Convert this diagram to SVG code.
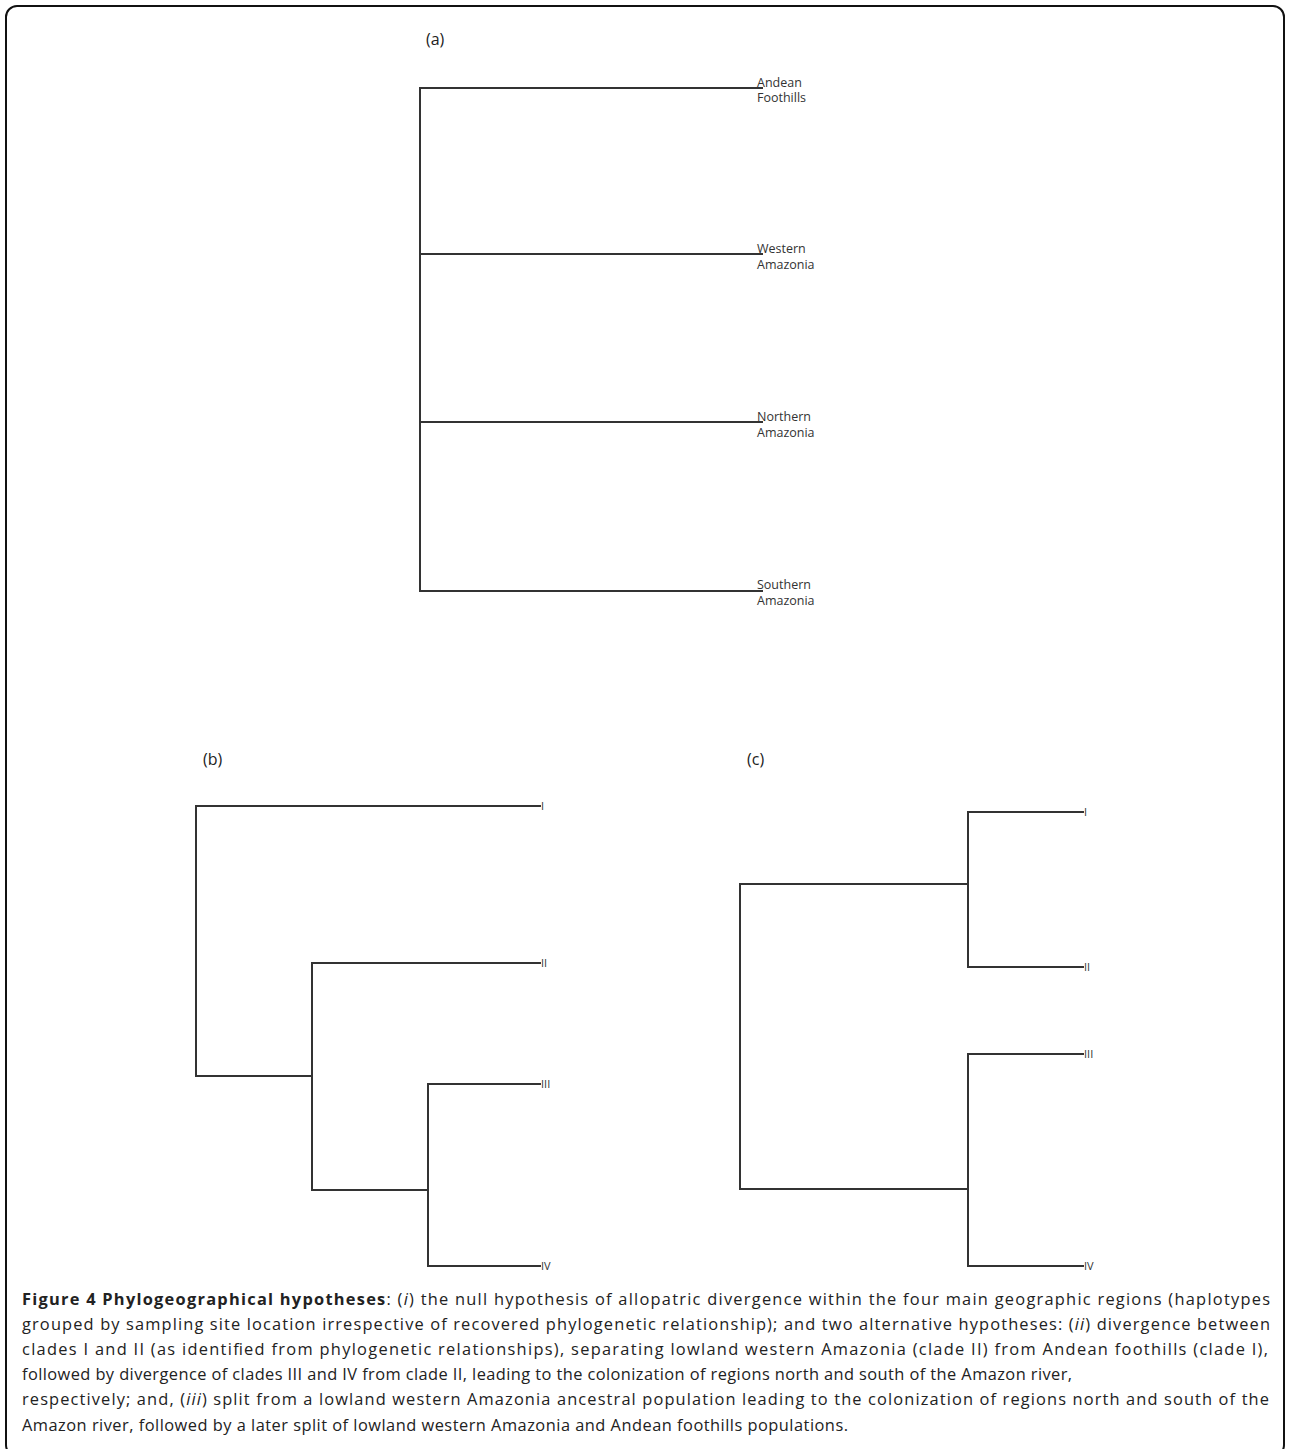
<svg xmlns="http://www.w3.org/2000/svg" width="1290" height="1449" viewBox="0 0 1290 1449">
<style>
.br{stroke:#333;stroke-width:2;fill:none;stroke-linecap:square}
.lab{font-family:"Open Sans","Liberation Sans",sans-serif;font-size:12.5px;fill:#333}
.tip{font-family:"Open Sans","Liberation Sans",sans-serif;font-size:11px;fill:#333}
.pan{font-family:"Open Sans","Liberation Sans",sans-serif;font-size:16px;fill:#222}
.cap{font-family:"Open Sans","Liberation Sans",sans-serif;font-size:16.4px;fill:#222}
</style>
<rect x="0" y="0" width="1290" height="1449" fill="#fff"/>
<rect x="6" y="6" width="1278" height="1450" rx="11" ry="11" fill="none" stroke="#111" stroke-width="2"/>
<g id="panel-labels">
<text class="pan" x="426" y="45">(a)</text>
<text class="pan" x="203" y="765">(b)</text>
<text class="pan" x="747" y="765">(c)</text>
</g>
<g id="connectors">
<path class="br" d="M420,88V591M420,88H762M420,254H762M420,422H762M420,591H762"/>
<path class="br" d="M196,806V1076M196,806H540M196,1076H312M312,963V1190M312,963H540M312,1190H428M428,1084V1266M428,1084H540M428,1266H540"/>
<path class="br" d="M740,884V1189M740,884H968M740,1189H968M968,812V967M968,812H1083M968,967H1083M968,1054V1266M968,1054H1083M968,1266H1083"/>
</g>
<g id="node-andean"><text class="lab" x="757" y="87">Andean</text><text class="lab" x="757" y="102">Foothills</text></g>
<g id="node-western"><text class="lab" x="757" y="253">Western</text><text class="lab" x="757" y="269">Amazonia</text></g>
<g id="node-northern"><text class="lab" x="757" y="421">Northern</text><text class="lab" x="757" y="437">Amazonia</text></g>
<g id="node-southern"><text class="lab" x="757" y="589">Southern</text><text class="lab" x="757" y="605">Amazonia</text></g>
<g id="node-b-I"><text class="tip" x="541" y="810">I</text></g>
<g id="node-b-II"><text class="tip" x="541" y="967">II</text></g>
<g id="node-b-III"><text class="tip" x="541" y="1088">III</text></g>
<g id="node-b-IV"><text class="tip" x="541" y="1270">IV</text></g>
<g id="node-c-I"><text class="tip" x="1084" y="816">I</text></g>
<g id="node-c-II"><text class="tip" x="1084" y="971">II</text></g>
<g id="node-c-III"><text class="tip" x="1084" y="1058">III</text></g>
<g id="node-c-IV"><text class="tip" x="1084" y="1270">IV</text></g>
<g id="caption">
<text class="cap" x="22" y="1305" textLength="1248" lengthAdjust="spacing"><tspan font-weight="bold">Figure 4 Phylogeographical hypotheses</tspan>: (<tspan font-style="italic">i</tspan>) the null hypothesis of allopatric divergence within the four main geographic regions (haplotypes</text>
<text class="cap" x="22" y="1330" textLength="1248" lengthAdjust="spacing">grouped by sampling site location irrespective of recovered phylogenetic relationship); and two alternative hypotheses: (<tspan font-style="italic">ii</tspan>) divergence between</text>
<text class="cap" x="22" y="1355" textLength="1246" lengthAdjust="spacing">clades I and II (as identified from phylogenetic relationships), separating lowland western Amazonia (clade II) from Andean foothills (clade I),</text>
<text class="cap" x="22" y="1380" textLength="1050" lengthAdjust="spacing">followed by divergence of clades III and IV from clade II, leading to the colonization of regions north and south of the Amazon river,</text>
<text class="cap" x="22" y="1405" textLength="1247" lengthAdjust="spacing">respectively; and, (<tspan font-style="italic">iii</tspan>) split from a lowland western Amazonia ancestral population leading to the colonization of regions north and south of the</text>
<text class="cap" x="22" y="1431" textLength="826" lengthAdjust="spacing">Amazon river, followed by a later split of lowland western Amazonia and Andean foothills populations.</text>
</g>
</svg>
